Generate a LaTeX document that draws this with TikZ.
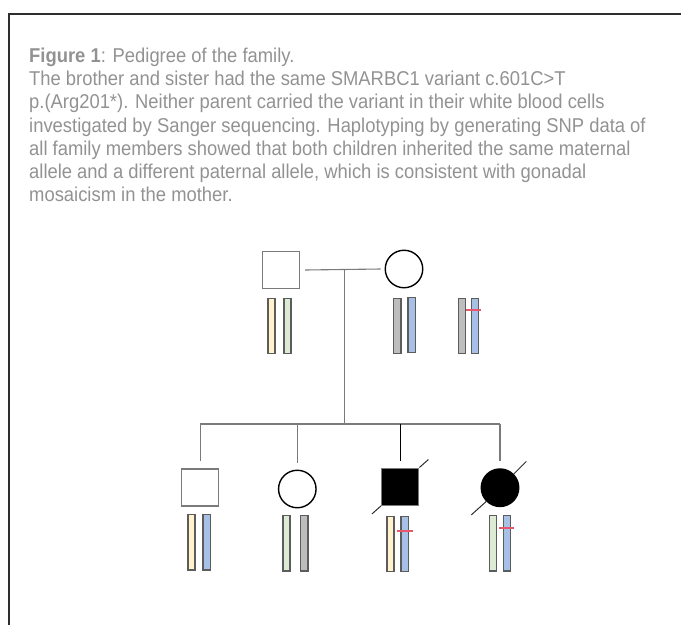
\documentclass[tikz,border=0pt]{standalone}
\usepackage{fontspec}
\setmainfont{Liberation Sans}[FakeStretch=0.92]
\definecolor{textgray}{HTML}{929292}
\definecolor{framegray}{HTML}{2E2E2E}
\definecolor{linegray}{HTML}{7A7A7A}
\definecolor{edgegray}{HTML}{5C5C5C}
\definecolor{chryellow}{HTML}{FFF2CC}
\definecolor{chrgreen}{HTML}{DDEBD5}
\definecolor{chrblue}{HTML}{A6C0E6}
\definecolor{chrgray}{HTML}{BDBDBD}
\definecolor{mutred}{HTML}{E8566C}
\begin{document}
\begin{tikzpicture}[x=1pt, y=-1pt,
    caption/.style={anchor=base west, inner sep=0pt, text=textgray, font=\fontsize{20}{23}\selectfont},
    male/.style={draw=linegray, line width=1.4pt, minimum size=37pt, inner sep=0pt},
    female/.style={circle, draw=black, line width=1.4pt, minimum size=37.5pt, inner sep=0pt},
    branch/.style={linegray, line width=1.1pt},
    slash/.style={draw=framegray, line width=1pt},
    chrom/.style={draw=edgegray, line width=1.3pt, minimum width=7.2pt, minimum height=55.5pt, inner sep=0pt},
    mut/.style={mutred, line width=2pt}]
        \useasboundingbox (0,0) rectangle (681,625);
        % Cadre
        \draw[line width=2.5pt, framegray] (681,14) -- (9,14) -- (9,625);

        % Legende
        \node[caption] (cap1) at (29,62.5) {\textbf{Figure 1}: Pedigree of the family.};
        \node[caption] (cap2) at (29,85.7) {The brother and sister had the same SMARBC1 variant c.601C>T};
        \node[caption] (cap3) at (29,108.9) {p.(Arg201*). Neither parent carried the variant in their white blood cells};
        \node[caption] (cap4) at (29,132.1) {investigated by Sanger sequencing. Haplotyping by generating SNP data of};
        \node[caption] (cap5) at (29,155.3) {all family members showed that both children inherited the same maternal};
        \node[caption] (cap6) at (29,178.5) {allele and a different paternal allele, which is consistent with gonadal};
        \node[caption] (cap7) at (29,201.7) {mosaicism in the mother.};

        % Parents
        \node[male] (dad) at (281,270) {};
        \node[female] (mum) at (404,269) {};
        \coordinate (mate) at (344.5,270);
        \coordinate (sib) at (344.5,424);
        \draw[branch] ([xshift=5pt]dad.east) -- ([xshift=-4pt]mum.west);
        \draw[branch] (mate) -- (sib);

        % Enfants
        \node[male] (son1) at (200.2,487.5) {};
        \node[female] (dau2) at (297.3,489) {};
        \node[male, fill=black] (son3) at (400.2,486.7) {};
        \node[female, fill=black] (dau4) at (500,487.7) {};
        \draw[branch] (son1 |- sib) -- (dau4 |- sib);
        \draw[branch] (son1 |- sib) -- ([yshift=7pt]son1.north);
        \draw[branch] (dau2 |- sib) -- ([yshift=7pt]dau2.north);
        \draw[line width=1.1pt] (son3 |- sib) -- ([yshift=7pt]son3.north);
        \draw[branch] (dau4 |- sib) -- ([yshift=7pt]dau4.north);

        % Deces
        \draw[slash] (son3.south west) -- ++(-9,8);
        \draw[slash] (son3.north east) -- ++(9,-8);
        \draw[slash] (dau4.225) -- ++(-15,13.5);
        \draw[slash] (dau4.45) -- ++(12.5,-12.5);

        % Chromosomes des parents
        \node[chrom, fill=chryellow] (dadA) at (271.5,326) {};
        \node[chrom, fill=chrgreen] (dadB) at (287.5,326) {};
        \node[chrom, fill=chrgray] (mumA) at (397.3,326) {};
        \node[chrom, fill=chrblue] (mumB) at (411.7,325) {};
        \node[chrom, fill=chrgray] (gonA) at (462.2,326) {};
        \node[chrom, fill=chrblue] (gonB) at (475,326) {};
        \draw[mut] (466,310) -- (481,310);

        % Chromosomes des enfants
        \node[chrom, fill=chryellow] (son1A) at (191.5,542.3) {};
        \node[chrom, fill=chrblue] (son1B) at (206.7,542.3) {};
        \node[chrom, fill=chrgreen] (dau2A) at (286.5,543.3) {};
        \node[chrom, fill=chrgray] (dau2B) at (304.3,543.3) {};
        \node[chrom, fill=chryellow] (son3A) at (390.5,544) {};
        \node[chrom, fill=chrblue] (son3B) at (404.7,544) {};
        \node[chrom, fill=chrgreen] (dau4A) at (492.8,543.3) {};
        \node[chrom, fill=chrblue] (dau4B) at (507.2,543.3) {};
        \draw[mut] (397.3,530.7) -- (412.7,530.7);
        \draw[mut] (499,527.7) -- (514,527.7);
    \end{tikzpicture}
\end{document}
